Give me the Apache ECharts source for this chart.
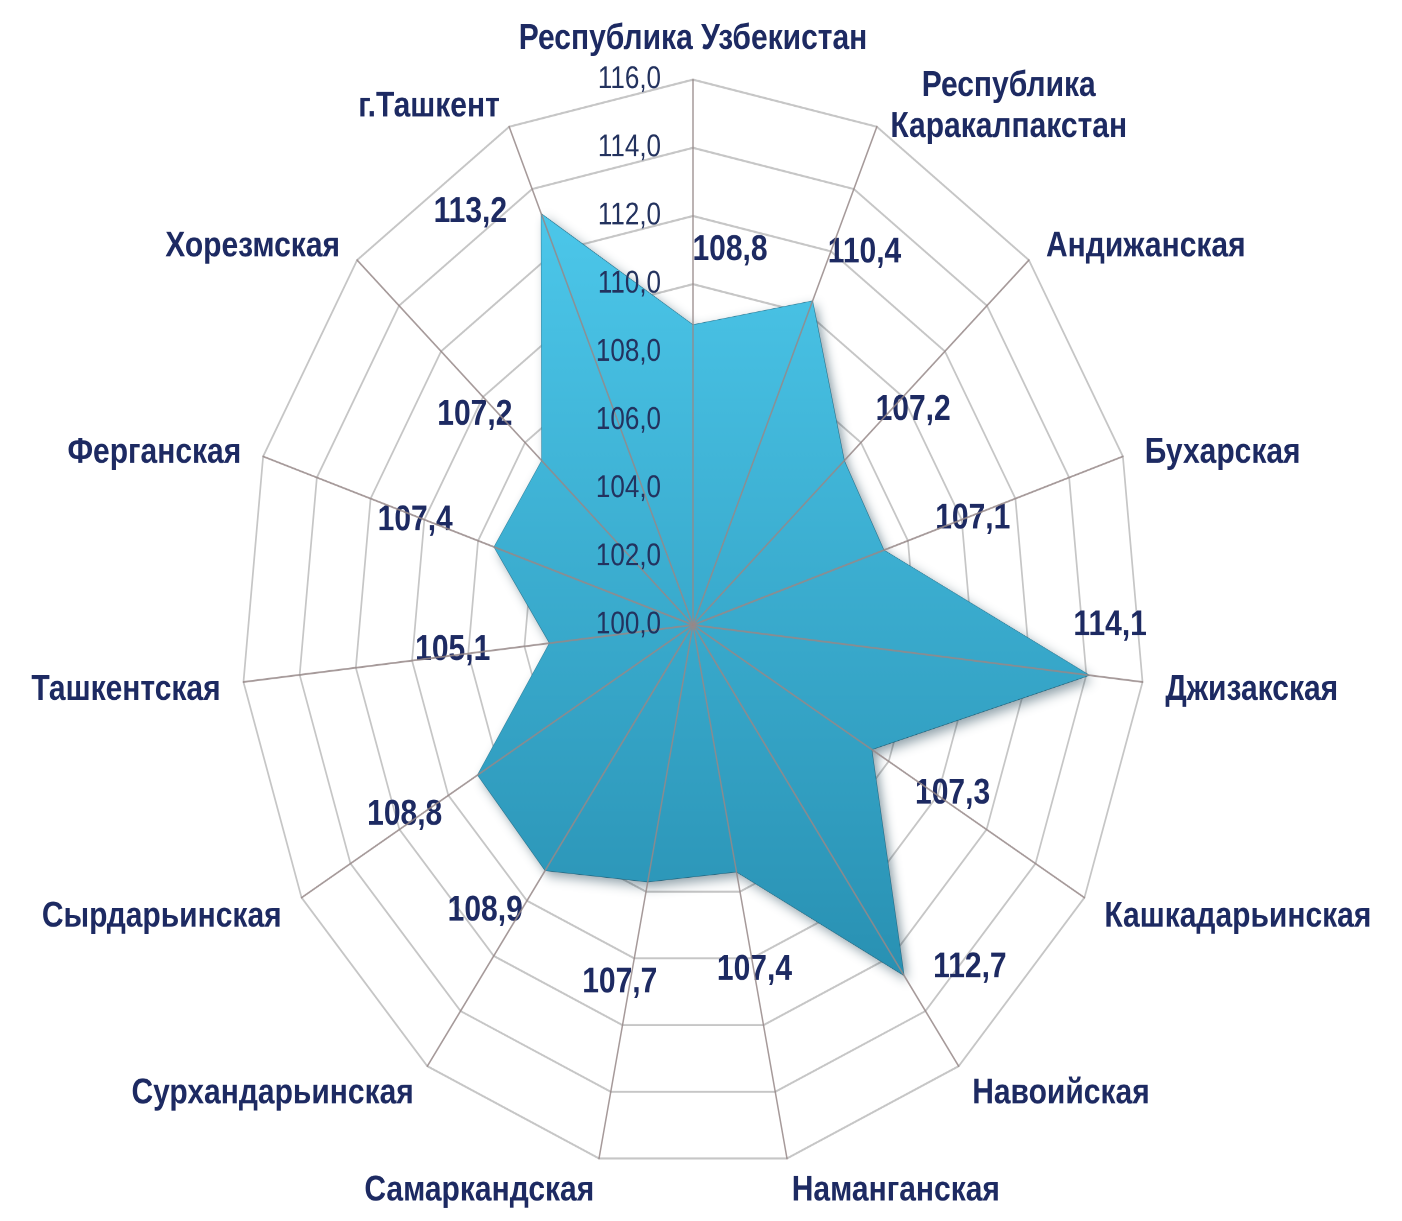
<!DOCTYPE html>
<html><head><meta charset="utf-8">
<script src="https://cdn.jsdelivr.net/npm/echarts@6/dist/echarts.min.js"></script>
<style>
html,body{margin:0;padding:0;background:#fff;overflow:hidden;width:1402px;height:1221px}
#chart{width:1402px;height:1012px;transform:scaleY(1.20652);transform-origin:0 0}
</style></head><body><div id="chart"></div>
<script>
// ---- data ----
const categories = ['Республика Узбекистан','Республика\nКаракалпакстан','Андижанская','Бухарская','Джизакская','Кашкадарьинская','Навоийская','Наманганская','Самаркандская','Сурхандарьинская','Сырдарьинская','Ташкентская','Ферганская','Хорезмская','г.Ташкент'];
const values = [108.8,110.4,107.2,107.1,114.1,107.3,112.7,107.4,107.7,108.9,108.8,105.1,107.4,107.2,113.2];
const tickValues = [100,102,104,106,108,110,112,114,116];
const tickLabels = ['100,0','102,0','104,0','106,0','108,0','110,0','112,0','114,0','116,0'];
// ---- label placement (screen px offsets from each point) ----
const labelOffsets = [[37,-75],[52,-49],[69,-51],[89,-32],[21,-50],[81,44],[66,-8],[18,98],[-28,101],[-60,40],[-73,40],[-97,7],[-79,-27],[-67,-46],[-71,-2]];

const SY = 1.20652;
const FONT = '"Liberation Sans", Arial, sans-serif';
const TEXT = '#1d2a62';
const axisMin = tickValues[0], axisMax = tickValues[tickValues.length-1];
const step = tickValues[1]-tickValues[0];
// ECharts radar runs counter-clockwise; reorder so categories run clockwise
const order = [0].concat(categories.map((c,i)=>i).slice(1).reverse());
const fmt = v => v.toFixed(1).replace('.', ',');

const indicatorBase = order.map(i => ({ name: categories[i], min: axisMin, max: axisMax }));
const indicatorTop = order.map((i,k) => ({ name: categories[i], min: axisMin, max: axisMax, axisLabel: { show: k === 0 } }));

const radarCommon = { center: [693, 518], radius: 452, startAngle: 90, shape: 'polygon', splitNumber: tickValues.length-1 };
const nameStyle = { color: TEXT, fontSize: 30, fontWeight: 'bold', fontFamily: FONT };

const chart = echarts.init(document.getElementById('chart'), null, { renderer: 'canvas', devicePixelRatio: 2 });
chart.setOption({
  animation: false,
  backgroundColor: '#ffffff',
  radar: [
    Object.assign({}, radarCommon, {
      z: 0,
      indicator: indicatorBase,
      nameGap: 23,
      axisName: Object.assign({}, nameStyle, {
        lineHeight: 22,
        padding: [8, 0, 0, 0],
        formatter: function (name) {
          if (name.indexOf('\n') < 0) return name;
          return name.split('\n').map(l => '{c|' + l + '}').join('\n');
        },
        rich: {
          c: Object.assign({ width: 245, align: 'center', lineHeight: 34 }, nameStyle)
        }
      }),
      axisLine: { show: false },
      splitLine: { lineStyle: { color: '#c6c6c6', width: 1.7 } },
      splitArea: { show: false },
      axisLabel: { show: false }
    }),
    Object.assign({}, radarCommon, {
      z: 10,
      indicator: indicatorTop,
      axisName: { show: false },
      axisLine: { show: true, lineStyle: { color: 'rgba(150,136,136,0.85)', width: 1.5 } },
      splitLine: { show: false },
      splitArea: { show: false },
      axisLabel: {
        show: false, color: '#23325e', fontSize: 26, fontFamily: FONT, margin: 32,
        formatter: v => tickLabels[Math.round((v - axisMin) / step)]
      }
    })
  ],
  series: [{
    type: 'radar',
    radarIndex: 0,
    z: 5,
    silent: true,
    label: {
      color: TEXT, fontSize: 30, fontWeight: 'bold', fontFamily: FONT,
      formatter: p => (p.value == null || isNaN(p.value)) ? '' : fmt(p.value)
    },
    data: [{
      value: order.map(i => values[i]),
      symbol: 'none',
      label: { show: false },
      lineStyle: { color: 'rgba(30,120,150,0.9)', width: 1 },
      areaStyle: {
        opacity: 1,
        color: new echarts.graphic.LinearGradient(0, 0, 0, 1, [
          { offset: 0, color: '#4cc7ea' }, { offset: 1, color: '#2991b3' }
        ]),
        shadowBlur: 10, shadowColor: 'rgba(0,40,60,0.45)', shadowOffsetX: 4, shadowOffsetY: 4
      }
    }].concat(values.map((v, i) => ({
      value: order.map(j => j === i ? v : null),
      symbol: 'circle', symbolSize: 1,
      itemStyle: { color: 'rgba(0,0,0,0)' },
      lineStyle: { opacity: 0, width: 0 },
      label: { show: true, position: 'inside', offset: [labelOffsets[i][0], labelOffsets[i][1] / SY] }
    })))
  }]
});
</script></body></html>
